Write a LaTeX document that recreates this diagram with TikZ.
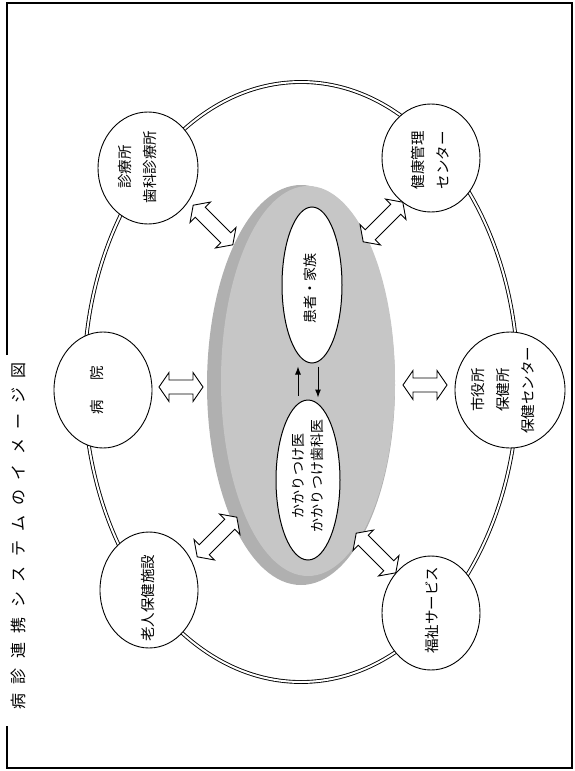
\documentclass[tikz,border=0pt]{standalone}
\usepackage{fontspec}
\newfontfamily\jp{Noto Sans CJK JP}
\usetikzlibrary{shapes.geometric,arrows.meta}
\begin{document}
\begin{tikzpicture}[x=1pt,y=-1pt,
  frame/.style={line width=1.1pt},
  sat/.style={ellipse,draw,line width=0.9pt,fill=white,inner sep=0pt},
  innerell/.style={ellipse,draw,line width=1pt,fill=white,inner sep=0pt},
  lbl/.style={font=\jp\fontsize{14.5}{25}\selectfont,rotate=90,align=center,inner sep=0pt},
  ilbl/.style={font=\jp\fontsize{14}{19}\selectfont,rotate=90,align=center,inner sep=0pt},
  blk/.style={draw,line width=0.9pt,fill=white,line join=miter},
  flow/.style={line width=1pt,-{Latex[length=8pt,width=6pt]}},
  pics/dblarrow/.style={code={\draw[blk] ({-#1/2},0) -- ({-#1/2+10},14.5) -- ({-#1/2+10},7) -- ({#1/2-10},7) -- ({#1/2-10},14.5) -- ({#1/2},0) -- ({#1/2-10},-14.5) -- ({#1/2-10},-7) -- ({-#1/2+10},-7) -- ({-#1/2+10},-14.5) -- cycle;}}
]
\useasboundingbox (0,0) rectangle (574,771);
\draw[frame] (7,355) -- (7,3) -- (572,3) -- (572,768) -- (7,768) -- (7,726);
\node[lbl,font=\jp\fontsize{16}{18}\selectfont] (title) at (18,536) {病\kern9.5pt診\kern9.5pt連\kern9.5pt携\kern9.5ptシ\kern9.5ptス\kern9.5ptテ\kern9.5ptム\kern9.5ptの\kern9.5ptイ\kern9.5ptメ\kern9.5ptー\kern9.5ptジ\kern9.5pt図};

% outer ring
\node[ellipse,draw,line width=0.9pt,double=white,double distance=2pt,minimum width=434,minimum height=600,inner sep=0pt] (outer) at (301,382) {};

% central disc
\node[ellipse,fill=gray!62,minimum width=188,minimum height=400,inner sep=0pt] (disc) at (301,385) {};
\node[ellipse,fill=gray!45,minimum width=174,minimum height=390,inner sep=0pt] (face) at (308,381) {};

% hollow double arrows
\pic (a1) at (181,387) {dblarrow=44};
\pic (a2) at (425,385) {dblarrow=44};
\pic[rotate=-45] (a3) at (213,225) {dblarrow=56};
\pic[rotate=45] (a4) at (383,222) {dblarrow=56};
\pic[rotate=45] (a5) at (217,537) {dblarrow=56};
\pic[rotate=-45] (a6) at (376,553) {dblarrow=56};

% satellites
\node[sat,minimum width=100,minimum height=112] (shin) at (148,168) {};
\node[sat,minimum width=98,minimum height=116] (byo) at (103,390) {};
\node[sat,minimum width=98,minimum height=116] (rojin) at (149,590) {};
\node[sat,minimum width=98,minimum height=108] (kenko) at (431,158) {};
\node[sat,minimum width=110,minimum height=116] (shiyaku) at (510,390) {};
\node[sat,minimum width=98,minimum height=114] (fukushi) at (431,613) {};

% inner ellipses
\node[innerell,minimum width=60,minimum height=156] (pt) at (312,285) {};
\node[innerell,minimum width=64,minimum height=160] (kk) at (308,480) {};
\draw[flow] ([xshift=-10pt,yshift=4pt]kk.north) -- ([xshift=-14pt,yshift=-3pt]pt.south);
\draw[flow] ([xshift=6pt,yshift=-3pt]pt.south) -- ([xshift=10pt,yshift=2pt]kk.north);

% labels
\node[lbl] (l1) at (138,167) {診療所\\歯科診療所};
\node[lbl] (l2) at (97,390) {病\kern20pt院};
\node[lbl] (l3) at (148,598) {老人保健施設};
\node[lbl] (l4) at (430,160) {健康管理\\センター};
\node[lbl] (l5) at (503,390) {市役所\\保健所\\保健センター};
\node[lbl] (l6) at (432,610) {福祉サービス};
\node[ilbl] (l7) at (310,288) {患者・家族};
\node[ilbl] (l8) at (308,476) {かかりつけ医\\かかりつけ歯科医};
\end{tikzpicture}
\end{document}
